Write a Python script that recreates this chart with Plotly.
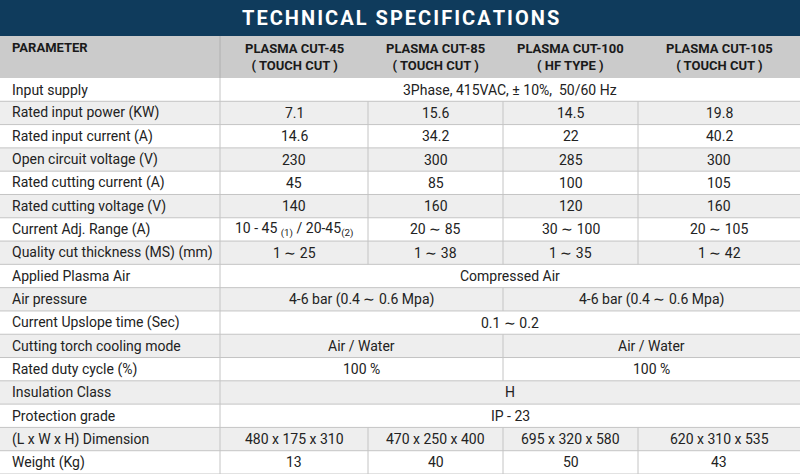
import plotly.graph_objects as go

title = "TECHNICAL SPECIFICATIONS"
header = ["PARAMETER", "PLASMA CUT-45<br>( TOUCH CUT )", "PLASMA CUT-85<br>( TOUCH CUT )",
          "PLASMA CUT-100<br>( HF TYPE )", "PLASMA CUT-105<br>( TOUCH CUT )"]
params = ["Input supply", "Rated input power (KW)", "Rated input current (A)",
          "Open circuit voltage (V)", "Rated cutting current (A)", "Rated cutting voltage (V)",
          "Current Adj. Range (A)", "Quality cut thickness (MS) (mm)", "Applied Plasma Air",
          "Air pressure", "Current Upslope time (Sec)", "Cutting torch cooling mode",
          "Rated duty cycle (%)", "Insulation Class", "Protection grade",
          "(L x W x H) Dimension", "Weight (Kg)"]
# each row: list of (text, column span)
values = [
    [("3Phase, 415VAC, ± 10%,  50/60 Hz", 4)],
    [("7.1", 1), ("15.6", 1), ("14.5", 1), ("19.8", 1)],
    [("14.6", 1), ("34.2", 1), ("22", 1), ("40.2", 1)],
    [("230", 1), ("300", 1), ("285", 1), ("300", 1)],
    [("45", 1), ("85", 1), ("100", 1), ("105", 1)],
    [("140", 1), ("160", 1), ("120", 1), ("160", 1)],
    [("10 - 45 <sub>(1)</sub> / 20-45<sub>(2)</sub>", 1), ("20 ∼ 85", 1), ("30 ∼ 100", 1), ("20 ∼ 105", 1)],
    [("1 ∼ 25", 1), ("1 ∼ 38", 1), ("1 ∼ 35", 1), ("1 ∼ 42", 1)],
    [("Compressed Air", 4)],
    [("4-6 bar (0.4 ∼ 0.6 Mpa)", 2), ("4-6 bar (0.4 ∼ 0.6 Mpa)", 2)],
    [("0.1 ∼ 0.2", 4)],
    [("Air / Water", 2), ("Air / Water", 2)],
    [("100 %", 2), ("100 %", 2)],
    [("H", 4)],
    [("IP - 23", 4)],
    [("480 x 175 x 310", 1), ("470 x 250 x 400", 1), ("695 x 320 x 580", 1), ("620 x 310 x 535", 1)],
    [("13", 1), ("40", 1), ("50", 1), ("43", 1)],
]

W, H = 800, 474
colx = [0, 220, 368, 503, 638, 800]
title_h, head_bot = 36, 78
rh = (H - head_bot) / len(params)
FONT = "Roboto, sans-serif"
GRID = "#c4c4c4"

shapes, ann = [], []
shapes.append(dict(type="rect", x0=0, x1=W, y0=0, y1=title_h, fillcolor="#0f3b5c", line_width=0, layer="below"))
shapes.append(dict(type="rect", x0=0, x1=W, y0=title_h, y1=head_bot, fillcolor="#cbcbcb", line_width=0, layer="below"))
ann.append(dict(x=W/2, y=title_h/2, text="<b>" + "&#8202;".join(title) + "</b>", showarrow=False,
                font=dict(family=FONT, size=20, color="white")))
for i, h in enumerate(header):
    if i == 0:
        ann.append(dict(x=10, y=47, text="<b>"+h+"</b>", xanchor="left", showarrow=False,
                        font=dict(family=FONT, size=13, color="#1a1a1a")))
    else:
        ann.append(dict(x=(colx[i]+colx[i+1])/2, y=57, text="<b>"+h+"</b>", showarrow=False,
                        font=dict(family=FONT, size=13, color="#1a1a1a")))
shapes.append(dict(type="line", x0=220, x1=220, y0=title_h, y1=head_bot, line=dict(color="#b0b0b0", width=1)))

for r, (p, cells) in enumerate(zip(params, values)):
    y0 = head_bot + r*rh
    y1 = y0 + rh
    yc = (y0+y1)/2
    shapes.append(dict(type="rect", x0=0, x1=W, y0=y0, y1=y1,
                       fillcolor="#ffffff" if r % 2 == 0 else "#eeeeee", line_width=0, layer="below"))
    shapes.append(dict(type="line", x0=0, x1=W, y0=y1, y1=y1, line=dict(color=GRID, width=1)))
    ann.append(dict(x=10, y=yc, text=p, xanchor="left", showarrow=False,
                    font=dict(family=FONT, size=14, color="#222")))
    c = 1
    shapes.append(dict(type="line", x0=220, x1=220, y0=y0, y1=y1, line=dict(color=GRID, width=1)))
    for txt, span in cells:
        xa, xb = colx[c], colx[c+span]
        ann.append(dict(x=(xa+xb)/2, y=yc, text=txt, showarrow=False,
                        font=dict(family=FONT, size=14, color="#222")))
        if c+span < 5:
            shapes.append(dict(type="line", x0=xb, x1=xb, y0=y0, y1=y1, line=dict(color=GRID, width=1)))
        c += span

fig = go.Figure(go.Scatter(x=[0, W], y=[0, H], mode="markers", marker_opacity=0, hoverinfo="skip"))
fig.update_layout(width=W, height=H, margin=dict(l=0, r=0, t=0, b=0), showlegend=False,
                  plot_bgcolor="white", paper_bgcolor="white", shapes=shapes, annotations=ann)
fig.update_xaxes(range=[0, W], visible=False, fixedrange=True)
fig.update_yaxes(range=[H, 0], visible=False, fixedrange=True)
fig.write_html("out.html", config=dict(displayModeBar=False),
               post_script="document.body.style.margin='0';document.body.style.overflow='hidden';")
